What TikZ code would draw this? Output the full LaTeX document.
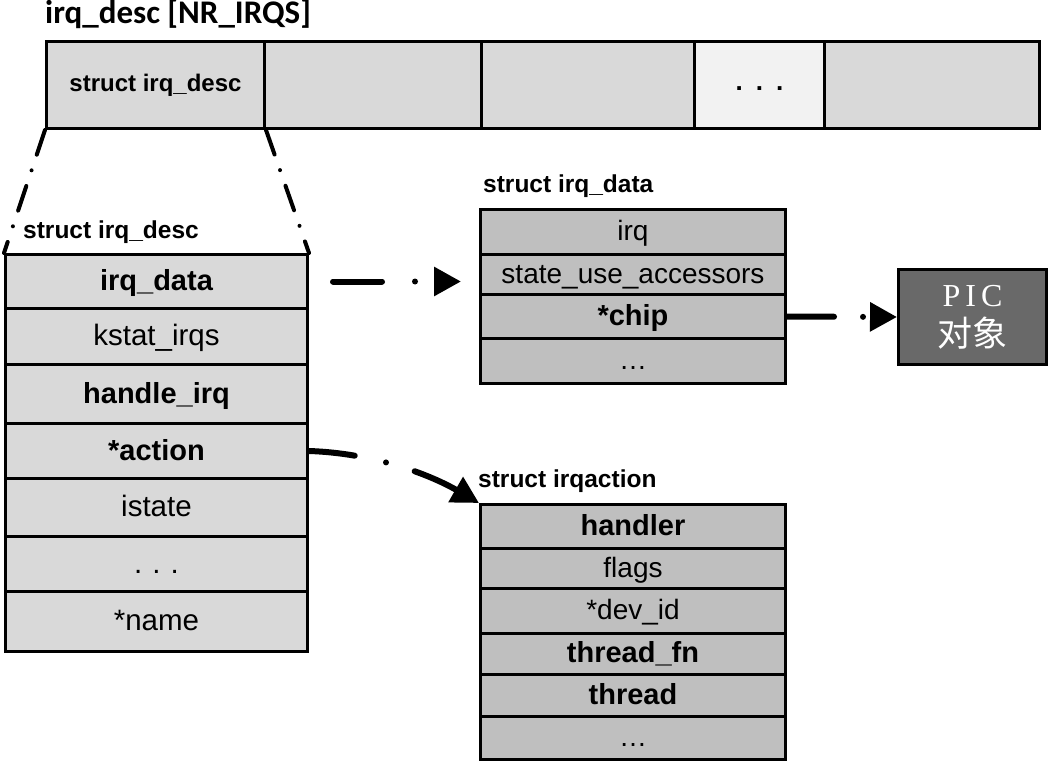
\documentclass[tikz,border=0pt]{standalone}
\usepackage{fontspec}
\setmainfont{Liberation Sans}
\newfontfamily\titlefont{Carlito}
\newfontfamily\picfont{Liberation Serif}
\newfontfamily\cjk{Noto Sans CJK SC}
\usetikzlibrary{arrows.meta,calc}
\definecolor{lg}{HTML}{D9D9D9}
\definecolor{vlg}{HTML}{F2F2F2}
\definecolor{mg}{HTML}{BFBFBF}
\definecolor{dg}{HTML}{696969}
\begin{document}
\begin{tikzpicture}[x=1pt,y=-1pt,
  box/.style={draw=black,line width=3pt,anchor=north west,inner sep=0pt,align=center},
  top/.style={box,fill=lg,minimum height=87pt},
  lf/.style={box,fill=lg,minimum width=302pt,text height=24pt,text depth=6pt,font=\fontsize{29.5}{32}\selectfont},
  mf/.style={box,fill=mg,minimum width=305pt,text height=23pt,text depth=6pt,font=\fontsize{28}{32}\selectfont},
  bf/.style={font=\fontsize{29}{32}\selectfont\bfseries},
  lbl/.style={anchor=base west,inner sep=0pt,font=\fontsize{24.5}{28}\selectfont\bfseries},
  zoomline/.style={line width=4pt,line cap=round,dash pattern=on 26pt off 16.5pt on 0pt off 16.5pt},
  ptr/.style={line width=6pt,line cap=round,-{Triangle[length=27pt,width=28pt]}}
]
\useasboundingbox (0,0) rectangle (1048,762);

% title
\node[anchor=base west,inner sep=0pt,font=\fontsize{33}{36}\selectfont\titlefont\bfseries] (title) at (45,24) {irq\_desc [NR\_IRQS]};

% top array
\node[top,minimum width=218pt,font=\fontsize{24}{28}\selectfont\bfseries] (c1) at (45,40) {struct irq\_desc};
\node[top,minimum width=217pt] (c2) at (263,40) {};
\node[top,minimum width=213pt] (c3) at (480,40) {};
\node[top,fill=vlg,minimum width=130pt,font=\fontsize{26}{28}\selectfont\bfseries] (c4) at (693,40) {\raisebox{-11pt}{.\hspace{13pt}.\hspace{13pt}.}};
\node[top,minimum width=215pt] (c5) at (823,40) {};

% left struct irq_desc
\node[lbl] (ldesc) at (23,238) {struct irq\_desc};
\node[lf,bf,minimum height=54pt] (d1) at (4,253) {irq\_data};
\node[lf,minimum height=56pt] (d2) at (4,307) {kstat\_irqs};
\node[lf,bf,minimum height=59pt] (d3) at (4,363) {handle\_irq};
\node[lf,bf,minimum height=55pt] (d4) at (4,422) {*action};
\node[lf,minimum height=58pt] (d5) at (4,477) {istate};
\node[lf,minimum height=55pt] (d6) at (4,535) {.\hspace{10pt}.\hspace{10pt}.};
\node[lf,minimum height=60pt] (d7) at (4,590) {*name};

% zoom lines
\draw[zoomline] (c1.south west) -- (d1.north west);
\draw[zoomline] (c1.south east) -- (d1.north east);

% struct irq_data
\node[lbl] (ldata) at (483,193) {struct irq\_data};
\node[mf,minimum height=45pt] (q1) at (479,208) {irq};
\node[mf,minimum height=40pt] (q2) at (479,253) {state\_use\_accessors};
\node[mf,bf,minimum height=44pt] (q3) at (479,293) {*chip};
\node[mf,minimum height=45pt] (q4) at (479,337) {\ldots};

% PIC
\node[box,fill=dg,minimum width=148pt,minimum height=95pt,text=white,font=\fontsize{32}{40}\selectfont] (pic) at (897,268)
  {{\picfont P\hspace{5pt}I\hspace{5pt}C}\\{\fontsize{35}{40}\selectfont\cjk 对象}};

% struct irqaction
\node[lbl] (laction) at (478,487) {struct irqaction};
\node[mf,bf,minimum height=44pt] (a1) at (479,503) {handler};
\node[mf,minimum height=40pt] (a2) at (479,547) {flags};
\node[mf,minimum height=45pt] (a3) at (479,587) {*dev\_id};
\node[mf,bf,minimum height=41pt] (a4) at (479,632) {thread\_fn};
\node[mf,bf,minimum height=42pt] (a5) at (479,673) {thread};
\node[mf,minimum height=43pt] (a6) at (479,715) {\ldots};

% pointers
\draw[ptr,dash pattern=on 49pt off 33pt on 0pt off 40pt,shorten <=24pt,shorten >=18pt]
  (d1.east) -- (d1.east -| q2.west);
\draw[ptr,dash pattern=on 47pt off 29pt on 0pt off 40pt]
  (q3.east) -- (pic.west);
\draw[ptr,dash pattern=on 46pt off 32pt on 0pt off 30pt]
  (d4.east) .. controls ($(d4.east)+(62,2)$) and ($(a1.north west)+(-52,-30)$) .. (a1.north west);
\end{tikzpicture}
\end{document}
